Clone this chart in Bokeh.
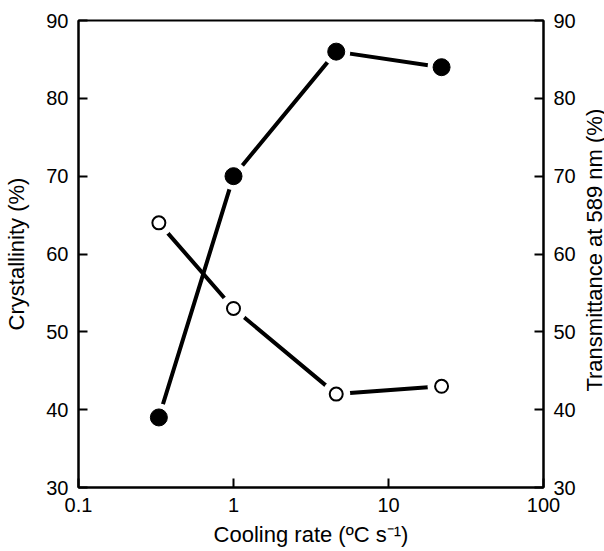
import math
from bokeh.plotting import figure
from bokeh.layouts import row
from bokeh.models import Range1d, LinearAxis, FixedTicker, ColumnDataSource
from bokeh.core.properties import value
from bokeh.embed import file_html
from bokeh.resources import INLINE

cooling_rate = [0.33, 1.0, 4.6, 22.0]
crystallinity = [64, 53, 42, 43]
transmittance = [39, 70, 86, 84]
x_ticks = [0.1, 1, 10, 100]
x_tick_labels = {0.1: "0.1", 1: "1", 10: "10", 100: "100"}
y_ticks = [30, 40, 50, 60, 70, 80, 90]
right_axis_title = "Transmittance at 589 nm (%)"

FONT = "Liberation Sans"
LABEL_SIZE = "22px"

p = figure(width=583, height=551, x_axis_type="log",
           x_range=Range1d(0.1, 100), y_range=Range1d(30, 90),
           output_backend="svg", toolbar_location=None,
           frame_width=465, frame_height=467,
           min_border_left=78, min_border_right=40,
           min_border_top=20, min_border_bottom=64)
p.extra_y_ranges = {"right": Range1d(30, 90)}
p.grid.visible = False
p.outline_line_color = "black"
p.outline_line_width = 2
p.background_fill_color = "white"
p.border_fill_color = "white"

right_axis = LinearAxis(y_range_name="right")
p.add_layout(right_axis, "right")

for ax in [p.xaxis[0], p.yaxis[0], right_axis]:
    ax.major_tick_in = 9
    ax.major_tick_out = 0
    ax.minor_tick_in = 0
    ax.minor_tick_out = 0
    ax.major_tick_line_width = 2
    ax.major_tick_line_color = "black"
    ax.axis_line_width = 2
    ax.axis_line_color = "black"
    ax.major_label_text_font = FONT
    ax.major_label_text_font_size = "20px"
    ax.major_label_text_color = "black"
    ax.axis_label_text_font = FONT
    ax.axis_label_text_font_size = LABEL_SIZE
    ax.axis_label_text_font_style = "normal"
    ax.axis_label_text_color = "black"
    ax.major_label_standoff = 10

p.xaxis[0].ticker = FixedTicker(ticks=x_ticks, minor_ticks=[])
p.xaxis[0].major_label_overrides = x_tick_labels
p.xaxis[0].axis_label = "Cooling rate (\u00baC s\u207b\u00b9)"
p.xaxis[0].axis_label_standoff = 7
p.yaxis[0].ticker = FixedTicker(ticks=y_ticks, minor_ticks=[])
p.yaxis[0].axis_label = "Crystallinity (%)"
p.yaxis[0].axis_label_standoff = 14
right_axis.ticker = FixedTicker(ticks=y_ticks, minor_ticks=[])

src = ColumnDataSource(dict(x=cooling_rate, c=crystallinity, t=transmittance))

p.line("x", "c", source=src, line_color="black", line_width=4)
p.line("x", "t", source=src, line_color="black", line_width=4, y_range_name="right")
# white halos to create the gaps between lines and markers
p.scatter("x", "c", source=src, size=28, fill_color="white", line_color=None)
p.scatter("x", "t", source=src, size=28, fill_color="white", line_color=None, y_range_name="right")
p.scatter("x", "c", source=src, size=13, fill_color="white", line_color="black", line_width=2)
p.scatter("x", "t", source=src, size=17, fill_color="black", line_color="black", line_width=1,
          y_range_name="right")

# narrow strip on the right holding the right-hand axis title (reads bottom-to-top)
p2 = figure(width=21, height=551, x_range=Range1d(0, 21), y_range=Range1d(0, 551),
            output_backend="svg", toolbar_location=None,
            min_border_left=0, min_border_right=0, min_border_top=0, min_border_bottom=0)
p2.axis.visible = False
p2.grid.visible = False
p2.outline_line_color = None
p2.background_fill_color = "white"
p2.border_fill_color = "white"
p2.text(x=[11], y=[280], text=[right_axis_title], angle=math.pi / 2,
        text_align="center", text_baseline="middle",
        text_font=value(FONT), text_font_size=LABEL_SIZE, text_color="black")

layout = row(p, p2, spacing=0)
open("out.html", "w").write(file_html(layout, INLINE))
